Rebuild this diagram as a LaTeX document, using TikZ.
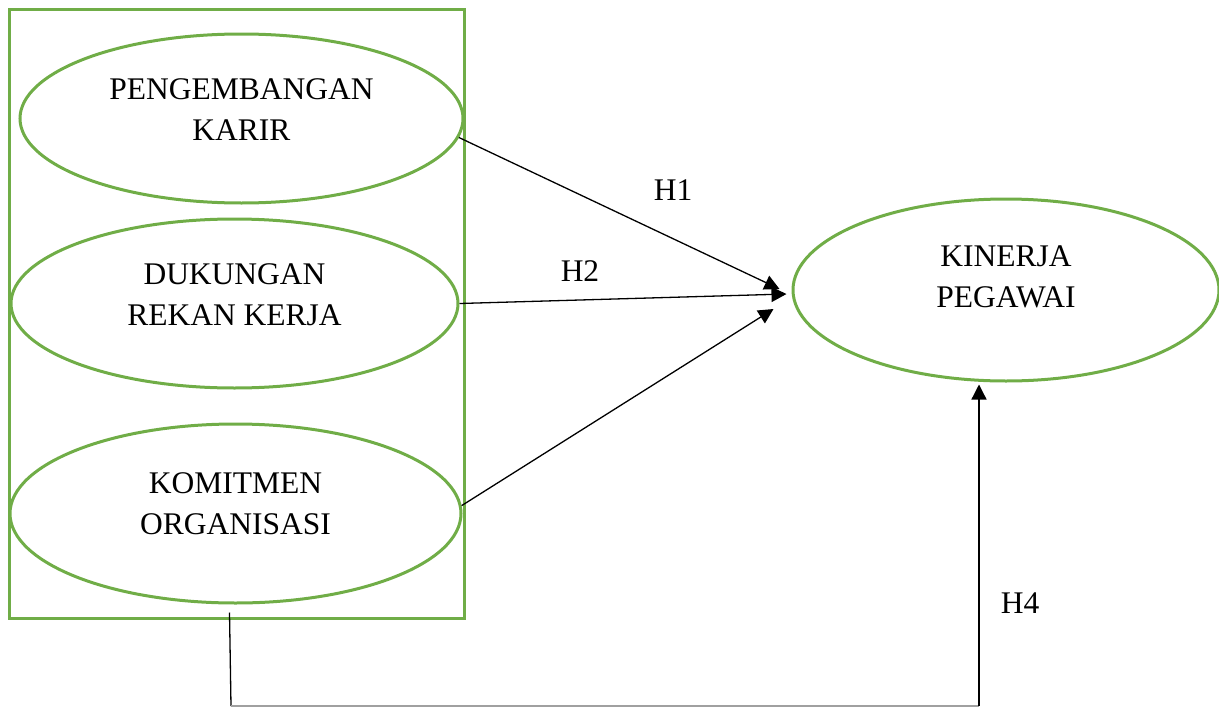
\documentclass[tikz,border=0pt]{standalone}
\usepackage{fontspec}
\setmainfont{Liberation Serif}
\usepackage{tikz}
\usetikzlibrary{shapes, shapes.geometric, arrows.meta, positioning, calc}
\usepackage{xcolor}
\definecolor{vargreen}{HTML}{70AD47}
\definecolor{linegrey}{HTML}{A0A0A0}
\tikzset{
  varbox/.style={ellipse, draw=vargreen, line width=3pt, inner sep=0pt},
  varlab/.style={align=center, font=\fontsize{31.5}{41}\selectfont, inner sep=0pt},
  hyplab/.style={font=\fontsize{31.5}{41}\selectfont, inner sep=0pt},
  grouprect/.style={draw=vargreen, line width=3pt},
  link/.style={-{Triangle[length=15pt,width=15pt]}, line width=1.3pt, draw=black},
  plainlink/.style={line width=1.3pt, draw=black},
  faintlink/.style={line width=1.3pt, draw=linegrey},
}
\begin{document}
\begin{tikzpicture}[x=1pt, y=-1pt]
  \useasboundingbox (0,0) rectangle (1219,707);

  % Group of independent variables
  \draw[grouprect] (9,9) rectangle (464,618);

  \node[varbox, minimum width=443pt, minimum height=169pt] (pk)  at (241.5,118.5) {};
  \node[varbox, minimum width=447pt, minimum height=169pt] (drk) at (234.5,303.5) {};
  \node[varbox, minimum width=451pt, minimum height=179pt] (ko)  at (235.5,513.5) {};

  % Dependent variable
  \node[varbox, minimum width=426pt, minimum height=182pt] (kp)  at (1006,290)  {};

  % Labels
  \node[varlab] (pklab)  at ([yshift=9pt]pk.center)  {PENGEMBANGAN\\KARIR};
  \node[varlab] (drklab) at ([yshift=9pt]drk.center) {DUKUNGAN\\REKAN KERJA};
  \node[varlab] (kolab)  at ([yshift=10pt]ko.center) {KOMITMEN\\ORGANISASI};
  \node[varlab] (kplab)  at ([yshift=13pt]kp.center) {KINERJA\\PEGAWAI};

  % Hypothesis paths
  \draw[link] (pk.-5)  -- ([xshift=-12pt,yshift=1pt]kp.west);
  \draw[link] (drk.east) -- ([xshift=-5pt,yshift=-4pt]kp.west);
  \draw[link] (ko.2)   -- ([xshift=-18pt,yshift=-19pt]kp.west);

  \coordinate (hstart) at ([xshift=-6pt,yshift=-8pt]ko.south);
  \coordinate (hleft)  at (231,706);
  \coordinate (hright) at (979,706);
  \coordinate (htip)   at ([yshift=-2pt]kp.south);
  \draw[plainlink] (hstart) -- (hleft);
  \draw[faintlink] (hleft) -- (hright);
  \draw[link] (hright) -- (hright |- htip);

  \node[hyplab] (h1) at (673,190) {H1};
  \node[hyplab] (h2) at (580,271) {H2};
  \node[hyplab] (h4) at (1020,603) {H4};
\end{tikzpicture}
\end{document}
